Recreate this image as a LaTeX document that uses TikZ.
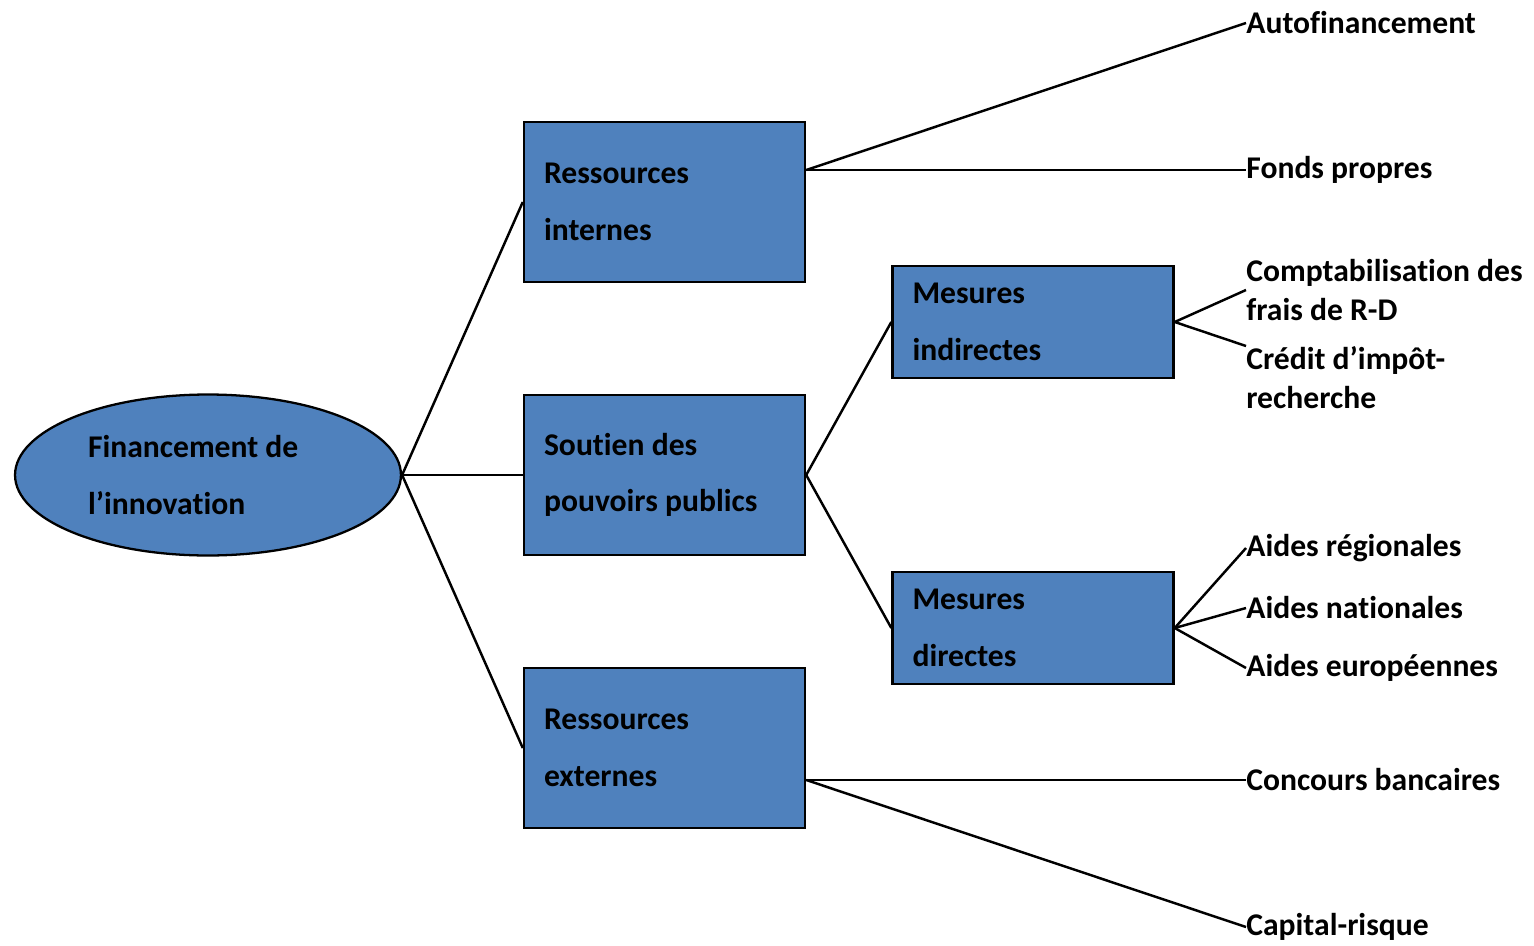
\documentclass[tikz,border=0pt]{standalone}
\usepackage{fontspec}
\setmainfont[Ligatures=NoCommon]{Carlito}
\usepackage{tikz}
\usepackage{xcolor}
\usetikzlibrary{positioning, shapes.geometric}

\definecolor{boxblue}{HTML}{4F81BD}

\begin{document}
\begin{tikzpicture}[
    x=0.02cm, y=-0.02cm,
    % Node styles
    rootnode/.style={ellipse, draw, line width=1.3pt, fill=boxblue, minimum width=7.72cm, minimum height=3.22cm, text width=4.8cm, align=flush left, font=\fontsize{18}{32.9}\selectfont\bfseries},
    bigbox/.style={draw, line width=1.4pt, fill=boxblue, minimum width=5.62cm, minimum height=3.2cm, inner xsep=0.4cm, text width=4.82cm, align=flush left, font=\fontsize{18}{32.3}\selectfont\bfseries},
    smallbox/.style={bigbox, minimum height=2.24cm},
    leaf/.style={inner sep=0pt, anchor=west, align=flush left, font=\fontsize{18}{22}\selectfont\bfseries},
    % Connector style
    link/.style={line width=1.4pt}
]
\useasboundingbox (0,0) rectangle (1534,946);

% Root and first level
\node[rootnode] (root) at (208,475) {Financement de\\l'innovation};
\node[bigbox] (res_int) at (664.5,202) {Ressources\\internes};
\node[bigbox] (soutien) at (664.5,475) {Soutien des\\pouvoirs publics};
\node[bigbox] (res_ext) at (664.5,748) {Ressources\\externes};

% Second level (public support)
\node[smallbox] (mes_ind) at (1033,322) {Mesures\\indirectes};
\node[smallbox] (mes_dir) at (1033,628) {Mesures\\directes};

% Leaves
\node[leaf] (autofin) at (1246,23) {Autofinancement};
\node[leaf] (fonds) at (1246,170) {Fonds propres};
\node[leaf] (compta) at (1246,290) {Comptabilisation des\\frais de R-D};
\node[leaf, anchor=north west] (credit) at (1246,346) {Crédit d'impôt-\\recherche};
\node[leaf] (aides_reg) at (1246,548) {Aides régionales};
\node[leaf] (aides_nat) at (1246,608) {Aides nationales};
\node[leaf] (aides_eur) at (1246,668) {Aides européennes};
\node[leaf] (concours) at (1246,780) {Concours bancaires};
\node[leaf] (capital) at (1246,927) {Capital-risque};

% Root to first level
\foreach \b in {res_int, soutien, res_ext} {
    \draw[link] (root.east) -- (\b.west);
}

% Internal resources
\draw[link] (res_int.east |- fonds.west) -- (autofin.west);
\draw[link] (res_int.east |- fonds.west) -- (fonds.west);

% Public support
\draw[link] (soutien.east) -- (mes_ind.west);
\draw[link] (soutien.east) -- (mes_dir.west);
\draw[link] (mes_ind.east) -- (compta.west);
\draw[link] (mes_ind.east) -- (credit.north west);
\foreach \a in {aides_reg, aides_nat, aides_eur} {
    \draw[link] (mes_dir.east) -- (\a.west);
}

% External resources
\draw[link] (res_ext.east |- concours.west) -- (concours.west);
\draw[link] (res_ext.east |- concours.west) -- (capital.west);

\end{tikzpicture}
\end{document}
